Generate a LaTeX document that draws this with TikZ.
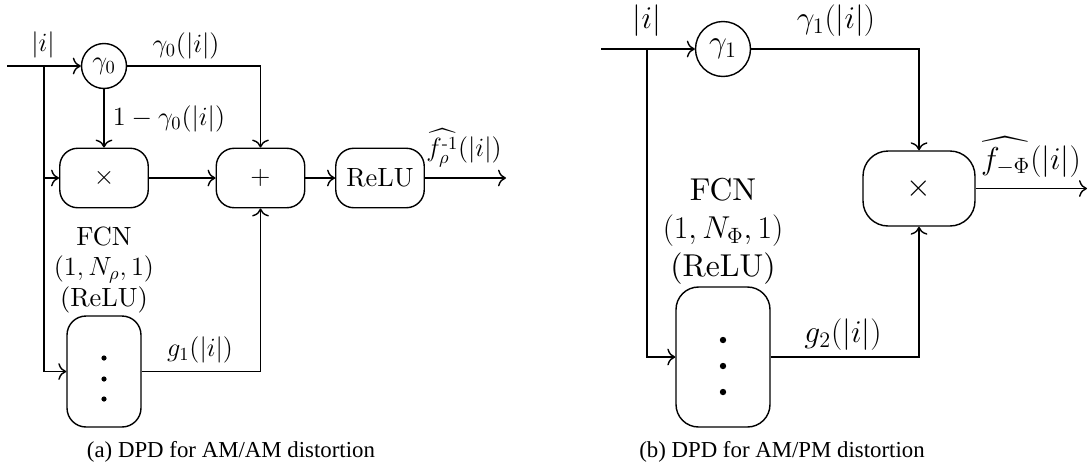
\documentclass[tikz,border=0pt]{standalone}
\usepackage{fix-cm}
\usepackage{amsmath,amssymb}
\usepackage{fontspec}
\setmainfont{lmroman10-regular}[Extension=.otf]
\newfontfamily\capfont{Liberation Serif}
\usetikzlibrary{arrows.meta,positioning}

\begin{document}
\begin{tikzpicture}[
  x=0.02cm, y=-0.02cm,
  fontA/.style={font=\fontsize{15}{17.5}\selectfont},
  fontB/.style={font=\fontsize{18}{21.5}\selectfont},
  gateA/.style={draw, thick, circle, fontA, minimum size=0.9cm, inner sep=0pt},
  gateB/.style={draw, thick, circle, fontB, minimum size=1.1cm, inner sep=0pt},
  opboxA/.style={draw, thick, fontA, rounded corners=0.36cm, minimum width=1.77cm, minimum height=1.19cm},
  netboxA/.style={draw, thick, rounded corners=0.38cm, minimum width=1.48cm, minimum height=2.22cm},
  netboxB/.style={draw, thick, rounded corners=0.45cm, minimum width=1.88cm, minimum height=2.8cm},
  mulboxB/.style={draw, thick, fontB, rounded corners=0.5cm, minimum width=2.24cm, minimum height=1.5cm},
  caption/.style={font=\capfont\fontsize{13}{15}\selectfont},
  arrow/.style={-{To[length=1.6mm]}, thick}
]
\useasboundingbox (0,0) rectangle (1091,468);

% (a) AM/AM
\coordinate (inA) at (7,66);
\coordinate (brA) at (44,66);
\coordinate (outA) at (506,178);
\node[gateA] (gamA) at (104,66) {$\gamma_0$};
\node[opboxA] (mulA) at (104,178) {$\times$};
\node[opboxA] (addA) at (260.5,178) {$+$};
\node[opboxA] (reluA) at (380,178) {ReLU};
\node[netboxA] (fcnA) at (104,371.5) {};
\foreach \dy in {-13.5,7.5,27.5}
  \fill (fcnA.center) ++(0,\dy) circle[radius=0.052cm];
\node[fontA, align=center, inner sep=1pt, above=0pt of fcnA] (fcntxtA) {FCN\\$(1,N_\rho,1)$\\(ReLU)};

\node[fontA] (inlblA) at (43,45) {$|i|$};
\node[fontA] (g0lblA) at (186,46) {$\gamma_0(|i|)$};
\node[fontA] (onelblA) at (169,119) {$1-\gamma_0(|i|)$};
\node[fontA] (outlblA) at (464,148) {$\widehat{f_\rho^{\text{-}1}}(|i|)$};
\node[fontA] (g1lblA) at (200,350) {$g_1(|i|)$};

\draw[thick] (inA) -- (brA);
\draw[arrow] (brA) -- (gamA);
\draw[arrow] (brA) |- (mulA);
\draw[arrow] (brA) |- (fcnA);
\draw[arrow] (gamA) -- (mulA);
\draw[arrow] (gamA) -| (addA);
\draw[arrow] (mulA) -- (addA);
\draw[arrow] (addA) -- (reluA);
\draw[arrow] (reluA) -- (outA);
\draw[arrow] (fcnA) -| (addA);

\node[caption] (capA) at (231,452) {(a) DPD for AM/AM distortion};

% (b) AM/PM
\coordinate (inB) at (601,49);
\coordinate (brB) at (647,49);
\coordinate (outB) at (1087,188.5);
\node[gateB] (gamB) at (723,49) {$\gamma_1$};
\node[mulboxB] (mulB) at (919,188.5) {$\times$};
\node[netboxB] (fcnB) at (723,357) {};
\foreach \dy in {-17,9,35}
  \fill (fcnB.center) ++(0,\dy) circle[radius=0.064cm];
\node[fontB, align=center, inner sep=1pt, above=0pt of fcnB] (fcntxtB) {FCN\\$(1,N_\Phi,1)$\\(ReLU)};

\node[fontB] (inlblB) at (647,21) {$|i|$};
\node[fontB] (g1lblB) at (836,21) {$\gamma_1(|i|)$};
\node[fontB] (outlblB) at (1031,157) {$\widehat{f_{-\Phi}}(|i|)$};
\node[fontB] (g2lblB) at (843,335) {$g_2(|i|)$};

\draw[thick] (inB) -- (brB);
\draw[arrow] (brB) -- (gamB);
\draw[arrow] (brB) |- (fcnB);
\draw[arrow] (gamB) -| (mulB);
\draw[arrow] (fcnB) -| (mulB);
\draw[arrow] (mulB) -- (outB);

\node[caption] (capB) at (782,452) {(b) DPD for AM/PM distortion};
\end{tikzpicture}
\end{document}
